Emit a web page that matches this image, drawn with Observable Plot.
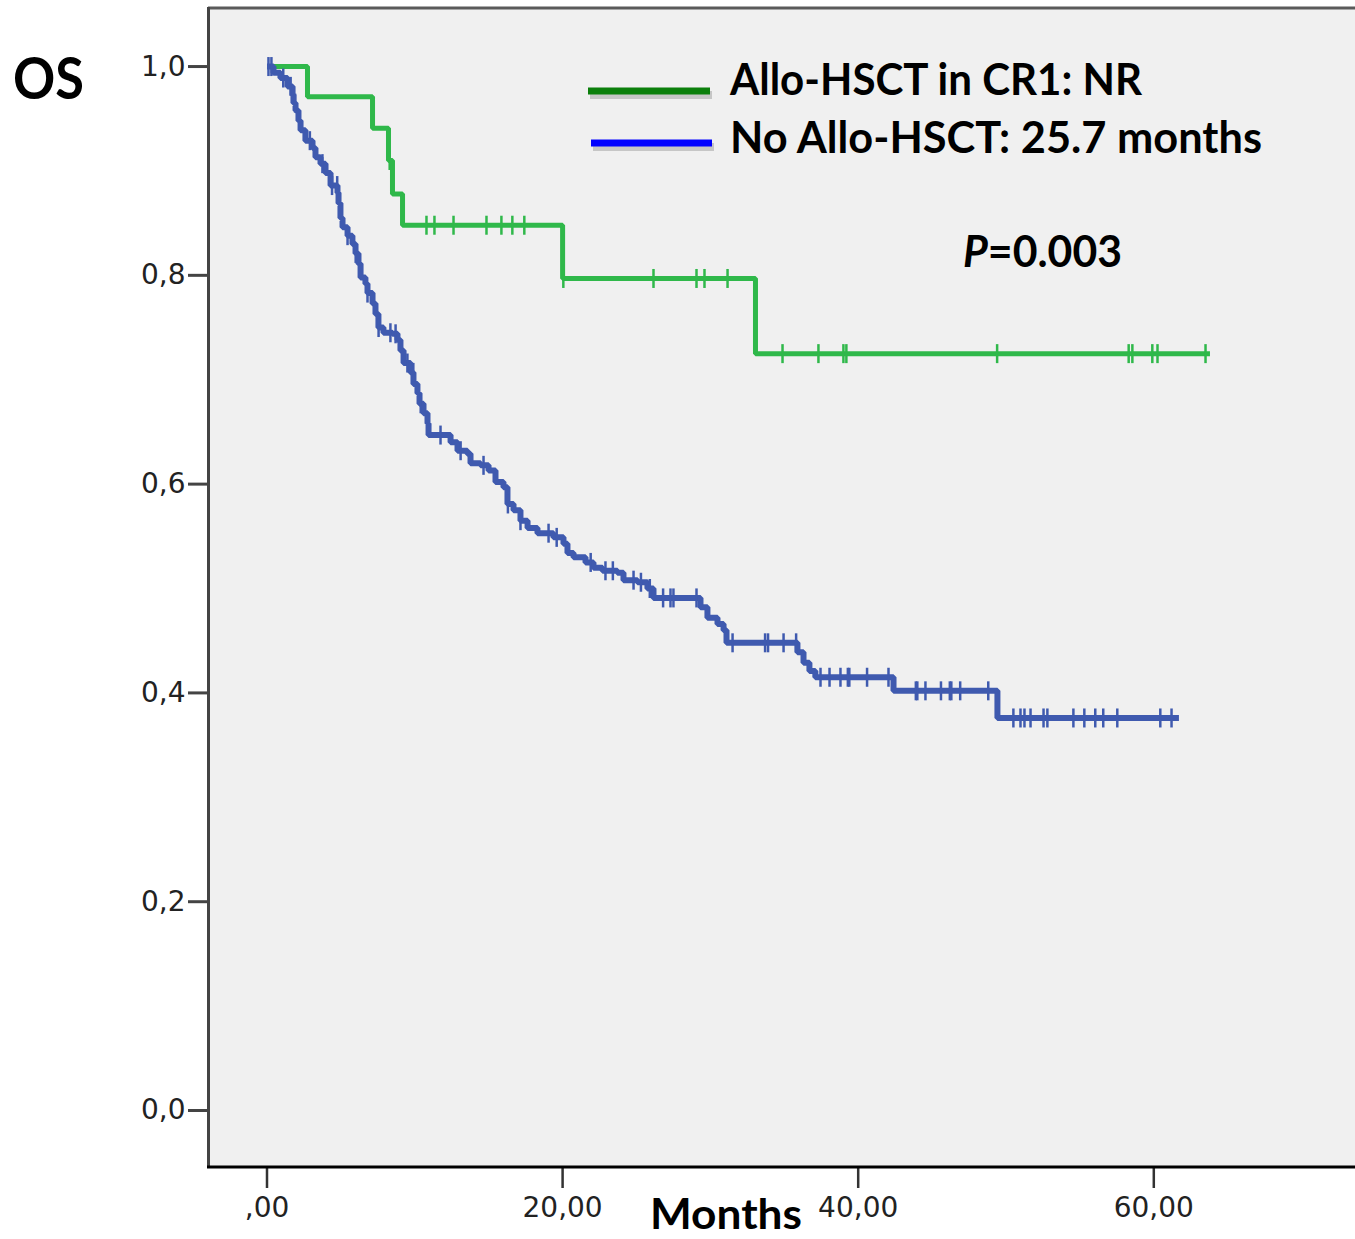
<!DOCTYPE html>
<html>
<head>
<meta charset="utf-8">
<style>
  body { margin: 0; background: #ffffff; }
  #chart svg { display: block; }
  [aria-label="y-axis tick"] { stroke: #444; stroke-width: 3px; }
  [aria-label="x-axis tick"] { stroke: #333; stroke-width: 2.5px; }
  [aria-label="y-axis tick label"], [aria-label="x-axis tick label"] { fill: #222; font-family: "DejaVu Sans"; font-size: 28px; }
</style>
<script src="https://cdn.jsdelivr.net/npm/d3@7"></script>
<script src="https://cdn.jsdelivr.net/npm/@observablehq/plot@0.6"></script>
</head>
<body>
<div id="chart"></div>
<script>
// ---- Data ----
const yTicks = [0, 0.2, 0.4, 0.6, 0.8, 1.0];
const xTicks = [0, 20, 40, 60];

// Allo-HSCT in CR1 (green)
const greenEventMonths = [0, 2.74, 7.14, 8.22, 8.49, 9.17, 20.0, 33.05];
const greenSurvival    = [1.0, 0.971, 0.941, 0.910, 0.878, 0.848, 0.797, 0.725];
const greenEndMonth = 63.8;
const greenCensorMonths = [8.3, 10.79, 11.33, 12.62, 14.85, 15.86, 16.6, 17.41, 20.05,
  26.15, 29.06, 29.6, 31.16, 34.88, 37.31, 39.0, 39.2, 49.4, 58.3, 58.55, 59.9, 60.25, 63.5];

// No Allo-HSCT (blue)
const blueEventMonths = [0, 0.44, 0.91, 1.39, 1.73, 1.79, 1.93, 2.13, 2.27, 2.60, 3.08, 3.28, 3.62, 3.96,
  4.30, 4.77, 4.84, 4.97, 5.11, 5.45, 5.78, 5.99, 6.19, 6.33, 6.66, 6.80, 7.14, 7.34, 7.54, 7.88,
  8.49, 8.83, 9.03, 9.24, 9.71, 9.91, 10.18, 10.32, 10.59, 10.86, 10.93, 12.42, 12.89, 13.56, 13.77,
  14.45, 14.99, 15.46, 16.00, 16.27, 16.68, 17.15, 17.63, 18.30, 19.38, 20.06, 20.33, 20.74, 21.55,
  22.09, 22.70, 23.71, 24.12, 25.07, 25.74, 26.15, 29.33, 29.80, 30.48, 30.89, 31.09, 35.89, 36.3,
  36.7, 37.1, 42.39, 49.42];
const blueSurvival = [1.0, 0.994, 0.989, 0.981, 0.973, 0.965, 0.958, 0.948, 0.939, 0.929, 0.922, 0.913, 0.907, 0.898,
  0.886, 0.879, 0.869, 0.855, 0.846, 0.838, 0.830, 0.821, 0.811, 0.798, 0.792, 0.783, 0.773, 0.763, 0.750, 0.745,
  0.744, 0.738, 0.728, 0.716, 0.707, 0.696, 0.687, 0.677, 0.668, 0.658, 0.647, 0.640, 0.632, 0.629, 0.620,
  0.618, 0.613, 0.602, 0.597, 0.581, 0.575, 0.565, 0.558, 0.553, 0.549, 0.543, 0.534, 0.530, 0.525,
  0.520, 0.517, 0.515, 0.508, 0.506, 0.500, 0.491, 0.482, 0.472, 0.466, 0.460, 0.448, 0.439, 0.429,
  0.421, 0.415, 0.402, 0.376];
const blueEndMonth = 61.7;
const blueCensorMonths = [0.1, 0.3, 1.1, 1.6, 1.9, 2.9, 3.75, 4.4, 4.75, 5.45, 6.0, 6.8, 7.55, 8.35, 8.7,
  9.5, 9.9, 10.4, 11.74, 13.1, 14.65, 16.3, 17.15, 19.05, 19.6, 21.9, 22.9, 23.4, 24.8, 25.3, 25.9,
  26.8, 27.3, 27.5, 29.06, 31.5, 33.7, 33.9, 34.95, 35.8,
  37.45, 38.06, 38.8, 39.3, 39.4, 40.6, 42.05,
  43.9, 44.0, 44.55, 45.6, 46.2, 46.3, 46.9, 48.8,
  50.5, 50.98, 51.25, 51.66, 52.54, 52.8, 54.56, 55.3, 56.04, 56.58, 57.53, 60.44, 61.2];

const greenColor = "#2fb84a";
const blueColor = "#3f5aaf";

// ---- Build tables ----
function curve(times, surv, end) {
  const rows = times.map((t, i) => ({month: t, surv: surv[i]}));
  rows.push({month: end, surv: surv[surv.length - 1]});
  return rows;
}
function survAt(times, surv, t) {
  let s = surv[0];
  for (let i = 0; i < times.length; i++) if (times[i] <= t) s = surv[i];
  return s;
}
function censors(cs, times, surv) {
  return cs.map(t => ({month: t, surv: survAt(times, surv, t)}));
}
const greenCurve = curve(greenEventMonths, greenSurvival, greenEndMonth);
const blueCurve = curve(blueEventMonths, blueSurvival, blueEndMonth);
const greenCens = censors(greenCensorMonths, greenEventMonths, greenSurvival);
const blueCens = censors(blueCensorMonths, blueEventMonths, blueSurvival);

const vtick = { draw(context) { context.moveTo(0, -9.5); context.lineTo(0, 9.5); } };

const plot = Plot.plot({
  width: 1355,
  height: 1239,
  marginLeft: 208,
  marginRight: 0,
  marginTop: 8,
  marginBottom: 72,
  style: {background: "transparent", fontFamily: "DejaVu Sans", fontSize: "28px", color: "#222", overflow: "visible"},
  x: {domain: [-3.958, 73.647]},
  y: {domain: [-0.0546, 1.0556]},
  marks: [
    Plot.frame({fill: "#f0f0f0", stroke: "none"}),
    Plot.axisY({ticks: yTicks, tickFormat: d => d.toFixed(1).replace(".", ","), tickSize: 20, tickPadding: 3, label: null}),
    Plot.axisX({ticks: xTicks, tickFormat: d => (d === 0 ? "" : String(d)) + ",00", tickSize: 21, tickPadding: 9, label: null}),
    Plot.line(greenCurve, {x: "month", y: "surv", curve: "step-after", stroke: greenColor, strokeWidth: 5, strokeLinejoin: "miter", strokeLinecap: "butt"}),
    Plot.dot(greenCens, {x: "month", y: "surv", symbol: vtick, fill: "none", stroke: greenColor, strokeWidth: 2.5}),
    Plot.line(blueCurve, {x: "month", y: "surv", curve: "step-after", stroke: blueColor, strokeWidth: 6, strokeLinejoin: "miter", strokeLinecap: "butt"}),
    Plot.dot(blueCens, {x: "month", y: "surv", symbol: vtick, fill: "none", stroke: blueColor, strokeWidth: 2.5})
  ]
});

document.getElementById("chart").appendChild(plot);

// ---- Borders, legend and labels ----
const svg = d3.select(plot);

svg.append("line").attr("x1", 208).attr("x2", 1355).attr("y1", 8).attr("y2", 8).attr("stroke", "#5a5a5a").attr("stroke-width", 3);
svg.append("line").attr("x1", 208.5).attr("x2", 208.5).attr("y1", 7).attr("y2", 1168).attr("stroke", "#444").attr("stroke-width", 3);
svg.append("line").attr("x1", 207).attr("x2", 1355).attr("y1", 1167).attr("y2", 1167).attr("stroke", "#000").attr("stroke-width", 3);

// legend swatches with soft shadow
function swatch(x1, x2, y, color) {
  svg.append("line").attr("x1", x1 + 2).attr("x2", x2 + 2).attr("y1", y + 4).attr("y2", y + 4)
    .attr("stroke", "#777").attr("stroke-opacity", 0.35).attr("stroke-width", 8);
  svg.append("line").attr("x1", x1).attr("x2", x2).attr("y1", y).attr("y2", y)
    .attr("stroke", color).attr("stroke-width", 7);
}
swatch(588, 710, 91, "#0b7f0b");
swatch(591, 712, 143, "#0000ff");

function label(x, y, txt, len, size) {
  return svg.append("text").attr("x", x).attr("y", y)
    .attr("text-anchor", "start")
    .attr("font-family", "Lato, 'Open Sans', sans-serif").attr("font-weight", 700)
    .attr("font-size", size).attr("fill", "#000")
    .attr("textLength", len).attr("lengthAdjust", "spacingAndGlyphs").text(txt);
}
label(730, 95, "Allo-HSCT in CR1: NR", 412, 43);
label(730, 153, "No Allo-HSCT: 25.7 months", 532, 43);
label(13, 99, "OS", 71, 57);
label(650, 1229, "Months", 152, 42);
const p = svg.append("text").attr("x", 963).attr("y", 267)
  .attr("text-anchor", "start")
  .attr("font-family", "Lato, 'Open Sans', sans-serif").attr("font-weight", 700)
  .attr("font-size", 43).attr("fill", "#000")
  .attr("textLength", 159).attr("lengthAdjust", "spacingAndGlyphs");
p.append("tspan").attr("font-style", "italic").text("P");
p.append("tspan").text("=0.003");
</script>
</body>
</html>
